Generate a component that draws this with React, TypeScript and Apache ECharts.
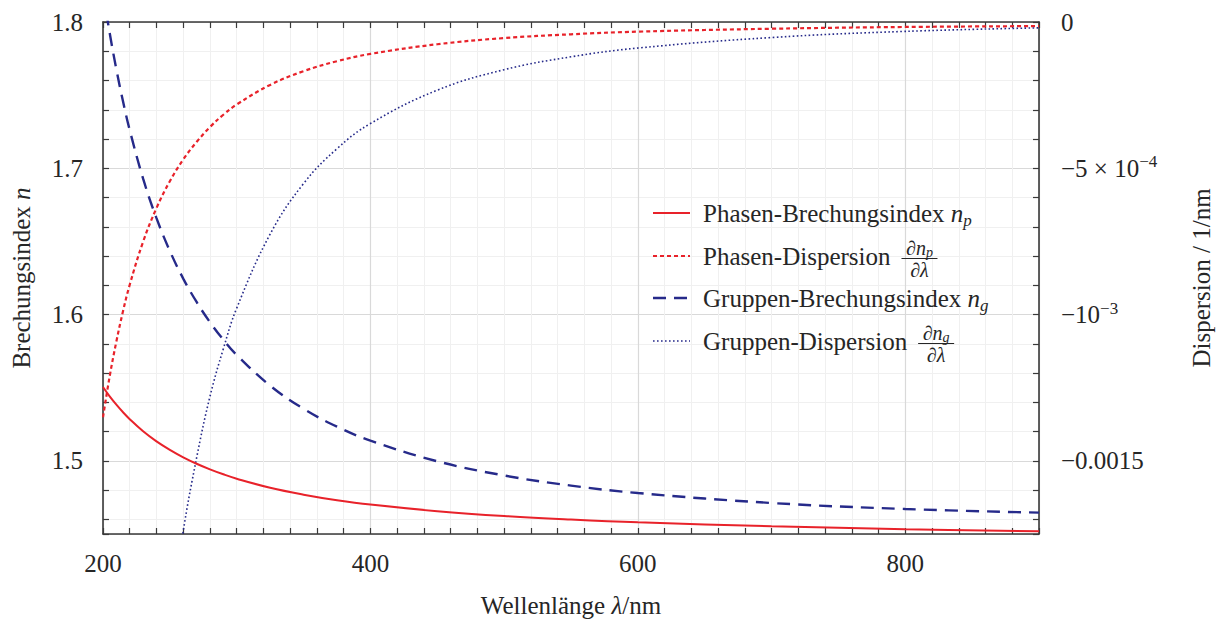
import React, { useEffect, useRef } from "react";
import * as echarts from "echarts";

// Wavelength grid in nm
const wavelength = [200, 205, 210, 215, 220, 230, 240, 250, 260, 270, 280, 290, 300, 325, 350, 375, 400, 450, 500, 550, 600, 700, 800, 900];

// Phase refractive index n_p
const phaseIndex = [1.5505, 1.5441, 1.5384, 1.5332, 1.5285, 1.5202, 1.5133, 1.5075, 1.5024, 1.498, 1.4942, 1.4908, 1.4878, 1.4816, 1.4769, 1.4731, 1.4701, 1.4656, 1.4623, 1.4599, 1.458, 1.4553, 1.4533, 1.4518];

// Group refractive index n_g
const groupIndex = [1.8208, 1.7925, 1.7676, 1.7456, 1.7261, 1.6929, 1.6659, 1.6435, 1.6246, 1.6086, 1.5948, 1.5828, 1.5724, 1.5514, 1.5356, 1.5234, 1.5138, 1.4997, 1.49, 1.4831, 1.478, 1.4712, 1.4671, 1.4646];

// Phase dispersion dn_p/dλ in 1/nm
const phaseDispersion = [-1.351e-3, -1.211e-3, -1.092e-3, -9.88e-4, -8.98e-4, -7.51e-4, -6.36e-4, -5.44e-4, -4.7e-4, -4.1e-4, -3.59e-4, -3.17e-4, -2.82e-4, -2.15e-4, -1.68e-4, -1.34e-4, -1.09e-4, -7.6e-5, -5.5e-5, -4.2e-5, -3.3e-5, -2.3e-5, -1.7e-5, -1.4e-5];

// Group dispersion dn_g/dλ in 1/nm (off scale below 250 nm)
const groupDispersion = [null, null, null, null, null, null, null, -2.06e-3, -1.74e-3, -1.49e-3, -1.28e-3, -1.117e-3, -9.78e-4, -7.25e-4, -5.52e-4, -4.33e-4, -3.47e-4, -2.33e-4, -1.63e-4, -1.19e-4, -8.9e-5, -5.3e-5, -3.2e-5, -2.0e-5];

const legendNames = ["Phasen-Brechungsindex", "Phasen-Dispersion", "Gruppen-Brechungsindex", "Gruppen-Dispersion"];

const RED = "#e8222a";
const BLUE = "#262a8a";
const AXIS = "#3a3a3a";
const TEXT = "#262626";
const FONT = "Liberation Serif";
const FS = 25;
const FRAC = 20;

const pairs = (values: (number | null)[]) =>
  wavelength.map((w, i) => [w, values[i]]).filter((p) => p[1] !== null);

function textWidth(text: string, font: string): number {
  const ctx = document.createElement("canvas").getContext("2d");
  if (!ctx) return text.length * 11;
  ctx.font = font;
  return ctx.measureText(text).width;
}

const richMath = (size: number, subSize: number) => ({
  rm: { fontSize: size, fontFamily: FONT, fill: TEXT, color: TEXT, lineHeight: size + 6 },
  it: { fontStyle: "italic", fontSize: size, fontFamily: FONT, fill: TEXT, color: TEXT, lineHeight: size + 6 },
  sub: { fontStyle: "italic", fontSize: subSize, fontFamily: FONT, fill: TEXT, color: TEXT, lineHeight: subSize, verticalAlign: "bottom" },
});

export default function App() {
  const ref = useRef<HTMLDivElement>(null);

  useEffect(() => {
    document.body.style.margin = "0";
    if (!ref.current) return;
    const chart = echarts.init(ref.current, null, { renderer: "svg" });

    const frameTick = { show: true, inside: true, length: 6, lineStyle: { color: AXIS, width: 1.2 } };
    const frameMinor = { show: true, length: 6, lineStyle: { color: AXIS, width: 1.2 } };
    const frameLine = { show: true, onZero: false, lineStyle: { color: AXIS, width: 1.6 } };

    // Legend drawn as graphic elements (two entries carry stacked fractions)
    const rowY = [213, 256, 298, 341];
    const lineX0 = 653;
    const lineX1 = 690;
    const textX = 703;
    const sampleStyles = [
      { stroke: RED, lineWidth: 2, lineDash: [1000, 0] },
      { stroke: RED, lineWidth: 2.2, lineDash: [4, 3] },
      { stroke: BLUE, lineWidth: 2.4, lineDash: [13, 8] },
      { stroke: BLUE, lineWidth: 1.6, lineDash: [1.6, 2.4] },
    ];
    const mainFont = `${FS}px "${FONT}"`;
    const fracRich = {
      rm: { fontSize: FRAC, fontFamily: FONT, fill: TEXT, lineHeight: 24 },
      it: { fontStyle: "italic", fontSize: FRAC, fontFamily: FONT, fill: TEXT, lineHeight: 24 },
      sub: { fontStyle: "italic", fontSize: 14, fontFamily: FONT, fill: TEXT, lineHeight: 14, verticalAlign: "bottom" },
    };
    const graphics: any[] = [];
    rowY.forEach((y, i) => {
      graphics.push({
        id: `sample-${i}`,
        type: "polyline",
        silent: true,
        z: 10,
        shape: { points: [[lineX0, y], [lineX1, y]] },
        style: { fill: null, stroke: sampleStyles[i].stroke, lineWidth: sampleStyles[i].lineWidth, lineDash: sampleStyles[i].lineDash },
      });
      const hasFraction = i === 1 || i === 3;
      const text = hasFraction
        ? `{rm|${legendNames[i]}}`
        : `{rm|${legendNames[i]} }{it|n}{sub|${i === 0 ? "p" : "g"}}`;
      graphics.push({
        id: `label-${i}`,
        type: "text",
        silent: true,
        z: 10,
        x: textX,
        y: y,
        style: {
          text,
          fontSize: FS,
          fontFamily: FONT,
          fill: TEXT,
          align: "left",
          verticalAlign: "middle",
          lineHeight: 31,
          rich: richMath(FS, 17),
        },
      });
      if (hasFraction) {
        const w = textWidth(legendNames[i], mainFont);
        const half = 18;
        const cx = textX + w + 11 + half;
        const barY = y + 2.5;
        const sub = i === 1 ? "p" : "g";
        graphics.push({
          id: `num-${i}`,
          type: "text",
          silent: true,
          z: 10,
          x: cx,
          y: barY - 11,
          style: {
            text: `{rm|∂}{it|n}{sub|${sub}}`,
            fontSize: FRAC,
            fontFamily: FONT,
            fill: TEXT,
            align: "center",
            verticalAlign: "middle",
            lineHeight: 24,
            rich: fracRich,
          },
        });
        graphics.push({
          id: `bar-${i}`,
          type: "rect",
          silent: true,
          z: 10,
          shape: { x: cx - half, y: barY - 0.5, width: 2 * half, height: 1 },
          style: { fill: TEXT, stroke: null },
        });
        graphics.push({
          id: `den-${i}`,
          type: "text",
          silent: true,
          z: 10,
          x: cx,
          y: barY + 11,
          style: {
            text: "{rm|∂}{it|λ}",
            fontSize: FRAC,
            fontFamily: FONT,
            fill: TEXT,
            align: "center",
            verticalAlign: "middle",
            lineHeight: 24,
            rich: fracRich,
          },
        });
      }
    });

    const labelBase = { fontSize: FS, fontFamily: FONT, color: TEXT };

    const option: any = {
      animation: false,
      backgroundColor: "#ffffff",
      textStyle: { fontFamily: FONT },
      grid: { left: 103, right: 184, top: 22, bottom: 86, containLabel: false },
      xAxis: [
        {
          type: "value",
          position: "bottom",
          min: 200,
          max: 900,
          interval: 200,
          axisLine: frameLine,
          axisTick: frameTick,
          minorTick: { ...frameMinor, splitNumber: 10 },
          splitLine: { show: true, lineStyle: { color: "#d9d9d9", width: 1.2 } },
          minorSplitLine: { show: true, lineStyle: { color: "#f0f0f0", width: 1 } },
          axisLabel: { ...labelBase, margin: 17, showMaxLabel: false, formatter: (v: number) => String(v) },
          name: "Wellenlänge {it|λ}/nm",
          nameLocation: "middle",
          nameGap: 56,
          nameTextStyle: { ...labelBase, rich: richMath(FS, 17) },
        },
        {
          type: "value",
          position: "top",
          min: 200,
          max: 900,
          interval: 200,
          axisLine: frameLine,
          axisTick: frameTick,
          minorTick: { ...frameMinor, splitNumber: 10 },
          splitLine: { show: false },
          minorSplitLine: { show: false },
          axisLabel: { show: false },
        },
      ],
      yAxis: [
        {
          type: "value",
          position: "left",
          min: 1.45,
          max: 1.8,
          splitNumber: 4,
          axisLine: frameLine,
          axisTick: frameTick,
          minorTick: { ...frameMinor, splitNumber: 5 },
          splitLine: { show: true, lineStyle: { color: "#d9d9d9", width: 1.2 } },
          minorSplitLine: { show: true, lineStyle: { color: "#f0f0f0", width: 1 } },
          axisLabel: { ...labelBase, margin: 20, showMinLabel: false, formatter: (v: number) => v.toFixed(1) },
          name: "Brechungsindex {it|n}",
          nameLocation: "middle",
          nameRotate: 90,
          nameGap: 66,
          nameTextStyle: { ...labelBase, rich: richMath(FS, 17) },
        },
        {
          type: "value",
          position: "right",
          min: -0.00175,
          max: 0,
          splitNumber: 4,
          axisLine: frameLine,
          axisTick: frameTick,
          minorTick: { ...frameMinor, splitNumber: 5 },
          splitLine: { show: false },
          minorSplitLine: { show: false },
          axisLabel: {
            ...labelBase,
            margin: 22,
            lineHeight: 30,
            showMinLabel: false,
            formatter: (v: number) => {
              if (Math.abs(v) < 1e-12) return "0";
              if (Math.abs(v + 5e-4) < 1e-9) return "−5 × 10{sup|−4}";
              if (Math.abs(v + 1e-3) < 1e-9) return "−10{sup|−3}";
              if (Math.abs(v + 1.5e-3) < 1e-9) return "−0.0015";
              return "";
            },
            rich: { sup: { fontSize: 17, fontFamily: FONT, color: TEXT, lineHeight: 18, verticalAlign: "top" } },
          },
          name: "Dispersion / 1/nm",
          nameLocation: "middle",
          nameRotate: 90,
          nameGap: 150,
          nameTextStyle: { ...labelBase },
        },
      ],
      series: [
        {
          type: "line",
          name: legendNames[0],
          xAxisIndex: 0,
          yAxisIndex: 0,
          data: pairs(phaseIndex),
          smooth: 0.4,
          symbol: "none",
          silent: true,
          clip: true,
          z: 4,
          lineStyle: { color: RED, width: 2 },
        },
        {
          type: "line",
          name: legendNames[1],
          xAxisIndex: 0,
          yAxisIndex: 1,
          data: pairs(phaseDispersion),
          smooth: 0.4,
          symbol: "none",
          silent: true,
          clip: true,
          z: 3,
          lineStyle: { color: RED, width: 2.2, type: [4, 3] },
        },
        {
          type: "line",
          name: legendNames[2],
          xAxisIndex: 0,
          yAxisIndex: 0,
          data: pairs(groupIndex),
          smooth: 0.4,
          symbol: "none",
          silent: true,
          clip: true,
          z: 3,
          lineStyle: { color: BLUE, width: 2.4, type: [13, 8] },
        },
        {
          type: "line",
          name: legendNames[3],
          xAxisIndex: 0,
          yAxisIndex: 1,
          data: pairs(groupDispersion),
          smooth: 0.4,
          symbol: "none",
          silent: true,
          clip: true,
          z: 3,
          lineStyle: { color: BLUE, width: 1.6, type: [1.6, 2.4] },
        },
      ],
      graphic: { elements: graphics },
    };

    chart.setOption(option);
    return () => chart.dispose();
  }, []);

  return <div ref={ref} style={{ width: 1223, height: 623 }} />;
}
